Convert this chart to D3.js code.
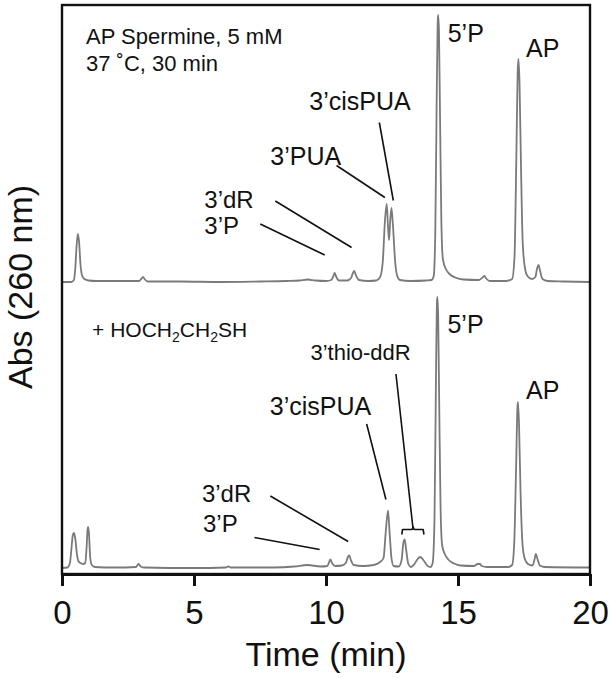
<!DOCTYPE html>
<html>
<head>
<meta charset="utf-8">
<script src="https://cdn.jsdelivr.net/npm/d3@7.9.0/dist/d3.min.js"></script>
<style>
  body { margin: 0; background: #fff; }
  svg { display: block; font-family: "Liberation Sans", Arial, Helvetica, sans-serif; }
  .trace { fill: none; stroke: #7a7a7a; stroke-width: 1.8; stroke-linejoin: round; }
  .leader { fill: none; stroke: #111; stroke-width: 1.6; }
</style>
</head>
<body>
<svg id="chart" width="612" height="678"></svg>
<script>
// time (min), absorbance (arbitrary units, relative to each trace baseline)
const topTrace = [
  [0, 0], [0.35, 0], [0.45, 0.004], [0.5, 0.025], [0.55, 0.07], [0.6, 0.096], [0.65, 0.078], [0.7, 0.035],
  [0.76, 0.013], [0.85, 0.006], [1.0, 0.003], [1.3, 0.002], [2.0, 0.002], [2.92, 0.002], [3.0, 0.006],
  [3.07, 0.01], [3.14, 0.005], [3.25, 0.001], [4.5, 0.001], [6.0, 0], [7.5, 0.001], [8.5, 0.002],
  [9.0, 0.003], [9.3, 0.005], [9.6, 0.003], [10.0, 0.002], [10.2, 0.004], [10.28, 0.012], [10.33, 0.018],
  [10.39, 0.01], [10.5, 0.003], [10.8, 0.003], [10.95, 0.008], [11.02, 0.018], [11.07, 0.022],
  [11.13, 0.014], [11.25, 0.004], [11.6, 0.002], [11.9, 0.003], [12.05, 0.01], [12.15, 0.04],
  [12.23, 0.12], [12.3, 0.156], [12.35, 0.11], [12.39, 0.084], [12.43, 0.12], [12.48, 0.148],
  [12.54, 0.11], [12.62, 0.04], [12.7, 0.012], [12.8, 0.004], [13.2, 0.002], [13.8, 0.003],
  [14.0, 0.004], [14.08, 0.012], [14.14, 0.1], [14.19, 0.35], [14.23, 0.52], [14.25, 0.534],
  [14.28, 0.5], [14.32, 0.33], [14.37, 0.12], [14.43, 0.045], [14.55, 0.025], [14.7, 0.015],
  [14.9, 0.009], [15.2, 0.005], [15.8, 0.004], [15.93, 0.009], [16.0, 0.012], [16.07, 0.007],
  [16.2, 0.002], [16.8, 0.002], [17.05, 0.006], [17.14, 0.05], [17.21, 0.25], [17.26, 0.42],
  [17.29, 0.446], [17.33, 0.4], [17.39, 0.22], [17.45, 0.08], [17.53, 0.03], [17.63, 0.012],
  [17.8, 0.006], [17.93, 0.01], [18.0, 0.028], [18.05, 0.034], [18.11, 0.022], [18.2, 0.006],
  [18.4, 0.002], [19.0, 0.001], [20, 0]
];

const bottomTrace = [
  [0, 0], [0.2, 0.001], [0.3, 0.01], [0.36, 0.04], [0.41, 0.066], [0.45, 0.07], [0.5, 0.06],
  [0.56, 0.03], [0.62, 0.014], [0.7, 0.01], [0.8, 0.008], [0.88, 0.01], [0.93, 0.04], [0.97, 0.078],
  [0.99, 0.082], [1.02, 0.07], [1.07, 0.02], [1.13, 0.006], [1.25, 0.002], [2.0, 0.001], [2.8, 0.002],
  [2.9, 0.008], [2.98, 0.003], [3.1, 0.001], [5.0, 0], [6.2, 0.001], [6.3, 0.003], [6.4, 0.001],
  [8.0, 0.001], [8.8, 0.003], [9.3, 0.006], [9.8, 0.003], [10.05, 0.004], [10.12, 0.012],
  [10.17, 0.017], [10.23, 0.01], [10.35, 0.004], [10.6, 0.005], [10.75, 0.01], [10.83, 0.022],
  [10.88, 0.025], [10.94, 0.016], [11.05, 0.006], [11.4, 0.004], [11.8, 0.006], [12.05, 0.012],
  [12.18, 0.02], [12.26, 0.07], [12.35, 0.115], [12.41, 0.07], [12.48, 0.02], [12.56, 0.004],
  [12.75, 0.003], [12.86, 0.015], [12.93, 0.05], [12.98, 0.057], [13.04, 0.035], [13.12, 0.008],
  [13.22, 0.002], [13.35, 0.008], [13.47, 0.018], [13.58, 0.022], [13.7, 0.015], [13.85, 0.004],
  [13.96, 0.002], [14.04, 0.01], [14.11, 0.1], [14.16, 0.35], [14.2, 0.53], [14.22, 0.542],
  [14.25, 0.5], [14.29, 0.32], [14.34, 0.12], [14.4, 0.045], [14.5, 0.028], [14.65, 0.016],
  [14.85, 0.009], [15.1, 0.005], [15.6, 0.004], [15.75, 0.008], [15.83, 0.008], [15.9, 0.004],
  [16.1, 0.002], [16.9, 0.002], [17.05, 0.006], [17.13, 0.05], [17.2, 0.2], [17.25, 0.32],
  [17.27, 0.332], [17.31, 0.29], [17.37, 0.15], [17.44, 0.05], [17.52, 0.02], [17.65, 0.008],
  [17.82, 0.005], [17.89, 0.015], [17.95, 0.028], [18.01, 0.018], [18.1, 0.005], [18.3, 0.002],
  [20, 0.001]
];

const topOffset = 0.572;
const xTicks = [0, 5, 10, 15, 20];

// peak labels: text, time, absorbance (baseline of text), font size
const labels = [
  ['AP Spermine, 5 mM', 0.91, 1.049, 22],
  ['37 ˚C, 30 min', 0.91, 0.995, 22],
  ['5’P', 14.61, 1.052, 25],
  ['AP', 17.58, 1.022, 25],
  ['3’cisPUA', 9.37, 0.916, 25],
  ['3’PUA', 7.89, 0.806, 25],
  ['3’dR', 5.39, 0.72, 24],
  ['3’P', 5.39, 0.668, 24],
  ['5’P', 14.6, 0.47, 25],
  ['3’thio-ddR', 9.41, 0.417, 22],
  ['AP', 17.58, 0.338, 25],
  ['3’cisPUA', 7.87, 0.306, 25],
  ['3’dR', 5.3, 0.132, 24],
  ['3’P', 5.34, 0.072, 24]
];

// leader lines: t1, a1, t2, a2
const leaders = [
  [8.08, 0.734, 10.97, 0.641],
  [7.51, 0.688, 9.95, 0.626],
  [10.4, 0.805, 12.23, 0.741],
  [12.02, 0.891, 12.55, 0.735],
  [7.89, 0.144, 10.84, 0.053],
  [7.29, 0.061, 9.76, 0.037],
  [11.54, 0.288, 12.27, 0.137],
  [12.65, 0.388, 13.3, 0.077]
];

// bracket over the 3'thio-ddR pair
const bracket = [[12.87, 0.067], [12.9, 0.077], [13.26, 0.077], [13.3, 0.082], [13.34, 0.077], [13.68, 0.077], [13.71, 0.067]];

const svg = d3.select('#chart');
const x = d3.scaleLinear().domain([0, 20]).range([62, 590]);
const y = d3.scaleLinear().domain([-0.012, 1.126]).range([574, 5]);

const line = d3.line()
  .x((d) => x(d[0]))
  .y((d) => y(d[1]))
  .curve(d3.curveMonotoneX);

svg.append('path')
  .attr('class', 'trace')
  .attr('d', line(topTrace.map((d) => [d[0], d[1] + topOffset])));

svg.append('path')
  .attr('class', 'trace')
  .attr('d', line(bottomTrace));

leaders.forEach((l) => {
  svg.append('line')
    .attr('class', 'leader')
    .attr('x1', x(l[0])).attr('y1', y(l[1]))
    .attr('x2', x(l[2])).attr('y2', y(l[3]));
});

svg.append('path')
  .attr('class', 'leader')
  .attr('stroke-linejoin', 'round')
  .attr('d', d3.line().x((d) => x(d[0])).y((d) => y(d[1]))(bracket));

labels.forEach((l) => {
  svg.append('text')
    .attr('x', x(l[1]))
    .attr('y', y(l[2]))
    .attr('font-size', l[3])
    .attr('fill', '#111')
    .text(l[0]);
});

// + HOCH2CH2SH with subscripts
let hs = svg.append('text')
  .attr('x', x(1.14)).attr('y', y(0.463))
  .attr('font-size', 21).attr('fill', '#111');
hs.append('tspan').text('+ HOCH');
hs.append('tspan').attr('font-size', 14).attr('dy', 5).text('2');
hs.append('tspan').attr('dy', -5).text('CH');
hs.append('tspan').attr('font-size', 14).attr('dy', 5).text('2');
hs.append('tspan').attr('dy', -5).text('SH');

// frame
svg.append('rect')
  .attr('x', x(0)).attr('y', y(1.126))
  .attr('width', x(20) - x(0)).attr('height', y(-0.012) - y(1.126))
  .attr('fill', 'none').attr('stroke', '#111').attr('stroke-width', 2.4);

const xAxis = svg.append('g')
  .attr('transform', `translate(0,${y(-0.012)})`)
  .call(d3.axisBottom(x).tickValues(xTicks).tickSize(12).tickSizeOuter(0).tickPadding(15));
xAxis.select('.domain').attr('stroke', '#111').attr('stroke-width', 3);
xAxis.selectAll('.tick line').attr('stroke', '#111').attr('stroke-width', 3);
xAxis.selectAll('.tick text')
  .attr('font-size', 33)
  .attr('font-family', '"Liberation Sans", Arial, sans-serif')
  .attr('fill', '#111');

svg.append('text')
  .attr('x', 326).attr('y', 666)
  .attr('text-anchor', 'middle')
  .attr('font-size', 34)
  .attr('fill', '#111')
  .text('Time (min)');

svg.append('text')
  .attr('transform', 'translate(32,287) rotate(-90)')
  .attr('text-anchor', 'middle')
  .attr('font-size', 34)
  .attr('fill', '#111')
  .text('Abs (260 nm)');
</script>
</body>
</html>
